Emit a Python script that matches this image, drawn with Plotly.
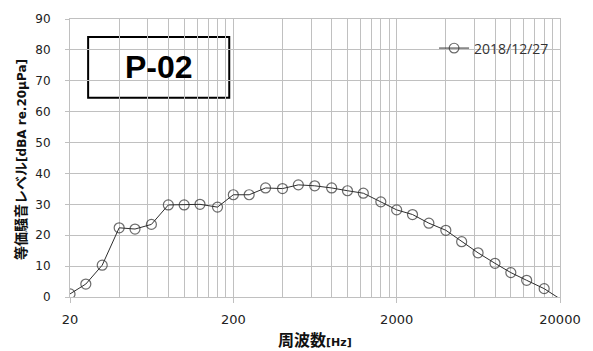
import math
import plotly.graph_objects as go

# 1/3-octave band centre frequencies [Hz]
freq = [20, 25, 31.5, 40, 50, 63, 80, 100, 125, 160, 200, 250, 315, 400, 500, 630,
        800, 1000, 1250, 1600, 2000, 2500, 3150, 4000, 5000, 6300, 8000, 10000,
        12500, 16000, 20000]
# Equivalent sound level [dBA]
level = [1.0, 4.2, 10.3, 22.4, 22.0, 23.5, 29.8, 29.8, 30.0, 29.1, 33.1, 33.1, 35.3,
         35.1, 36.3, 36.0, 35.3, 34.4, 33.6, 30.8, 28.2, 26.7, 23.9, 21.6, 17.9, 14.3,
         10.9, 7.9, 5.4, 2.7, -0.6]
series_name = "2018/12/27"
x_tick_vals = [20, 200, 2000, 20000]
x_tick_text = ["20", "200", "2000", "20000"]
y_tick_vals = list(range(0, 91, 10))
panel_label = "P-02"

# minor grid: multiples of 2 within each decade starting at 20
minor_vals = []
for dec in [20, 200, 2000]:
    for m in range(2, 10):
        minor_vals.append(dec * m)

grid = "#c0c0c0"
sizes = [10] * (len(freq) - 1) + [0]

fig = go.Figure()
fig.add_trace(go.Scatter(
    x=freq, y=level, mode="lines+markers", name=series_name,
    line=dict(color="#2e2e2e", width=1),
    marker=dict(symbol="circle-open", size=sizes, color="#2e2e2e",
                line=dict(color="#2e2e2e", width=1.2)),
))

fig.update_layout(
    width=593, height=351,
    margin=dict(l=70, r=28, t=14, b=54),
    paper_bgcolor="white", plot_bgcolor="white",
    showlegend=True,
    legend=dict(x=0.743, y=0.894, xanchor="left", yanchor="middle",
                bgcolor="rgba(0,0,0,0)",
                font=dict(family="Open Sans", size=14, color="#333333")),
    shapes=[
        dict(type="rect", xref="paper", yref="paper", x0=0.703, x1=1.0,
             y0=0.788, y1=0.989, fillcolor="white", line=dict(width=0),
             layer="between"),
        dict(type="rect", xref="paper", yref="paper", x0=0.037, x1=0.325,
             y0=0.717, y1=0.935, fillcolor="white",
             line=dict(color="black", width=2), layer="between"),
    ],
    annotations=[
        dict(text="<b>" + panel_label + "</b>", xref="paper", yref="paper",
             x=0.181, y=0.826, xanchor="center", yanchor="middle", showarrow=False,
             font=dict(family="Liberation Sans", size=32, color="black")),
        dict(text="<b>周波数</b><span style='font-family:DejaVu Sans;font-size:11px;font-weight:bold'>[Hz]</span>",
             xref="paper", yref="paper", x=0.501, y=-0.152, xanchor="center",
             yanchor="middle", showarrow=False,
             font=dict(family="Noto Sans CJK JP", size=16, color="#111111")),
        dict(text="<b>等価騒音レベル</b><span style='font-family:DejaVu Sans;font-size:12px;font-weight:bold'>[dBA re.20μPa]</span>",
             xref="paper", yref="paper", x=-0.101, y=0.495, xanchor="center",
             yanchor="middle", showarrow=False, textangle=-90,
             font=dict(family="Noto Sans CJK JP", size=14, color="#111111")),
    ],
)

fig.update_xaxes(
    type="log", range=[math.log10(20), math.log10(20000)],
    tickmode="array", tickvals=x_tick_vals, ticktext=x_tick_text,
    showgrid=True, gridcolor=grid, gridwidth=1,
    ticks="outside", ticklen=5, tickcolor=grid, ticklabelstandoff=5,
    tickfont=dict(family="DejaVu Sans", size=13, color="#222222"),
    minor=dict(tickmode="array", tickvals=minor_vals, showgrid=True,
               gridcolor=grid, gridwidth=1, ticks=""),
    showline=True, linecolor=grid, linewidth=1, mirror=True, zeroline=False,
)
fig.update_yaxes(
    range=[0, 90], tickmode="array", tickvals=y_tick_vals,
    showgrid=True, gridcolor=grid, gridwidth=1,
    ticks="outside", ticklen=4, tickcolor=grid, ticklabelstandoff=12,
    tickfont=dict(family="DejaVu Sans", size=12, color="#222222"),
    showline=True, linecolor=grid, linewidth=1, mirror=True, zeroline=False,
)

fig.write_html("out.html", config={"displayModeBar": False},
               post_script="document.body.style.margin='0px';")
